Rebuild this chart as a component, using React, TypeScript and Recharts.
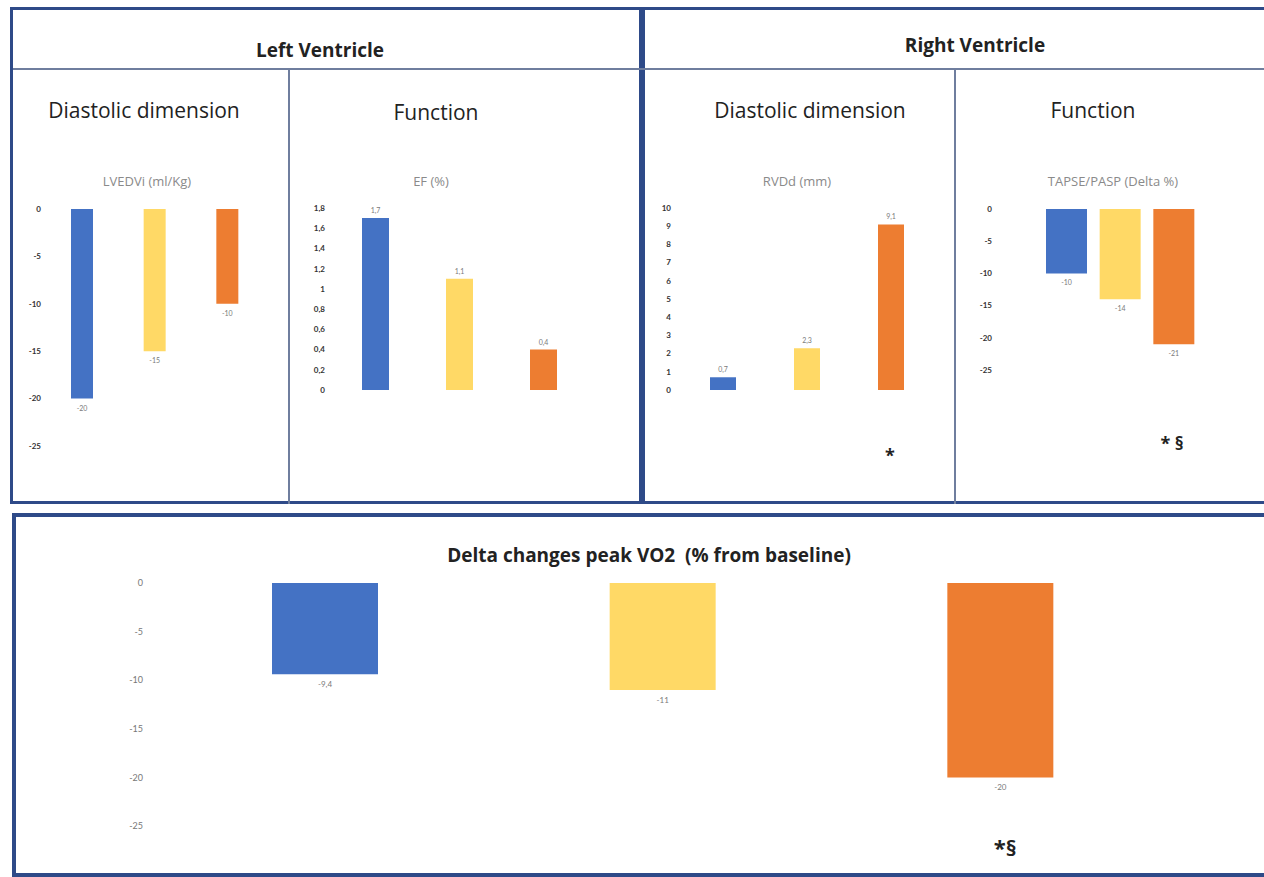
import { Bar, BarChart, Cell, LabelList, XAxis, YAxis } from "recharts";

const categories = ["Group 1", "Group 2", "Group 3"];
const barColors = ["#4472C4", "#FFD966", "#ED7D31"];

const lvedviValues = [-20, -15, -10];
const efValues = [1.7, 1.1, 0.4];
const rvddValues = [0.7, 2.3, 9.1];
const tapsePaspValues = [-10, -14, -21];
const peakVo2Values = [-9.4, -11, -20];

const deltaTicks = [0, -5, -10, -15, -20, -25];
const efTicks = [0, 0.2, 0.4, 0.6, 0.8, 1, 1.2, 1.4, 1.6, 1.8];
const rvddTicks = [0, 1, 2, 3, 4, 5, 6, 7, 8, 9, 10];

const FONT = "Lato, 'Open Sans', sans-serif";
const HEAD_FONT = "'Open Sans', Lato, sans-serif";
const NAVY = "#2E4A88";
const THIN = "#6F7E9E";

const fmt = (v: number | string) => String(v).replace(".", ",");

function toRows(values: number[]) {
  return categories.map((name, i) => ({ name, value: values[i] }));
}

interface PanelProps {
  values: number[];
  domain: [number, number];
  ticks: number[];
  left: number;
  top: number;
  width: number;
  height: number;
  marginTop: number;
  marginBottom: number;
  yWidth: number;
  tickGap: number;
  barSize: number;
  tickFont: number;
  tickColor: string;
  labelFont: number;
}

// value label: under the bar when negative, above it when positive
function makeLabel(fontSize: number) {
  return (props: any) => {
    const { x, y, width, height, value } = props;
    const top = Math.min(y, y + height);
    const bottom = Math.max(y, y + height);
    const cx = x + width / 2;
    const ty = value < 0 ? bottom + fontSize + 5 : top - 5;
    return (
      <text x={cx} y={ty} textAnchor="middle" fontSize={fontSize} fill="#7a7a7a" fontFamily={FONT}>
        {fmt(value)}
      </text>
    );
  };
}

function Panel(p: PanelProps) {
  return (
    <div style={{ position: "absolute", left: p.left, top: p.top }}>
      <BarChart
        width={p.width}
        height={p.height}
        data={toRows(p.values)}
        margin={{ top: p.marginTop, bottom: p.marginBottom, left: 0, right: 0 }}
        barCategoryGap={0}
      >
        <XAxis dataKey="name" hide />
        <YAxis
          width={p.yWidth}
          domain={p.domain}
          ticks={p.ticks}
          interval={0}
          axisLine={false}
          tickLine={false}
          tickSize={0}
          tickMargin={p.tickGap}
          tickFormatter={fmt}
          tick={{ fontSize: p.tickFont, fill: p.tickColor, fontFamily: FONT, fontWeight: p.tickColor === "#333" ? 700 : 400 }}
        />
        <Bar dataKey="value" barSize={p.barSize} isAnimationActive={false}>
          {p.values.map((_, i) => (
            <Cell key={i} fill={barColors[i]} />
          ))}
          <LabelList dataKey="value" content={makeLabel(p.labelFont)} />
        </Bar>
      </BarChart>
    </div>
  );
}

function Txt({ x, y, size, children, bold, color = "#222", w = 500 }: any) {
  return (
    <div
      style={{
        position: "absolute",
        left: x - w / 2,
        top: y - size * 0.65,
        width: w,
        textAlign: "center",
        fontSize: size,
        lineHeight: `${size * 1.2}px`,
        fontWeight: bold ? 700 : 400,
        color,
        fontFamily: HEAD_FONT,
        whiteSpace: "pre",
      }}
    >
      {children}
    </div>
  );
}

function Line({ x, y, w, h, c }: any) {
  return <div style={{ position: "absolute", left: x, top: y, width: w, height: h, background: c }} />;
}

export default function App() {
  return (
    <div style={{ position: "absolute", left: 0, top: 0, width: 1264, height: 877, background: "#fff", overflow: "hidden" }}>
      {/* frames */}
      <div style={{ position: "absolute", left: 10, top: 7, width: 632, height: 497, border: `3px solid ${NAVY}`, boxSizing: "border-box" }} />
      <div style={{ position: "absolute", left: 642, top: 7, width: 640, height: 497, border: `3px solid ${NAVY}`, boxSizing: "border-box" }} />
      <div style={{ position: "absolute", left: 12, top: 513, width: 1270, height: 364, border: `4px solid ${NAVY}`, boxSizing: "border-box" }} />
      <Line x={13} y={68} w={1251} h={2} c={THIN} />
      <Line x={288} y={69} w={1.5} h={435} c={THIN} />
      <Line x={954} y={69} w={1.5} h={435} c={THIN} />

      {/* headings */}
      <Txt x={320} y={51} size={19} bold>Left Ventricle</Txt>
      <Txt x={975} y={46} size={19} bold>Right Ventricle</Txt>
      <Txt x={144} y={112} size={21}>Diastolic dimension</Txt>
      <Txt x={436} y={114} size={21}>Function</Txt>
      <Txt x={810} y={112} size={21}>Diastolic dimension</Txt>
      <Txt x={1093} y={112} size={21}>Function</Txt>
      <Txt x={147} y={182} size={13} color="#8a8a8a">LVEDVi (ml/Kg)</Txt>
      <Txt x={431} y={182} size={13} color="#8a8a8a">EF (%)</Txt>
      <Txt x={797} y={182} size={13} color="#8a8a8a">RVDd (mm)</Txt>
      <Txt x={1113} y={182} size={13} color="#8a8a8a">TAPSE/PASP (Delta %)</Txt>
      <Txt x={649} y={556} size={19} bold w={800}>Delta changes peak VO2  (% from baseline)</Txt>

      <Panel values={lvedviValues} domain={[-25, 0]} ticks={deltaTicks} left={10} top={190} width={254} height={276}
        marginTop={19} marginBottom={20} yWidth={36} tickGap={5} barSize={22} tickFont={8} tickColor="#333" labelFont={7} />
      <Panel values={efValues} domain={[0, 1.8]} ticks={efTicks} left={290} top={190} width={295} height={220}
        marginTop={18} marginBottom={20} yWidth={43} tickGap={8} barSize={27} tickFont={8} tickColor="#333" labelFont={7} />
      <Panel values={rvddValues} domain={[0, 10]} ticks={rvddTicks} left={650} top={190} width={283} height={220}
        marginTop={18} marginBottom={20} yWidth={31} tickGap={10} barSize={26} tickFont={8} tickColor="#333" labelFont={7} />
      <Panel values={tapsePaspValues} domain={[-25, 0]} ticks={deltaTicks} left={958} top={190} width={243} height={200}
        marginTop={19} marginBottom={20} yWidth={82} tickGap={48} barSize={41} tickFont={8} tickColor="#333" labelFont={7} />
      <Panel values={peakVo2Values} domain={[-25, 0]} ticks={deltaTicks} left={20} top={565} width={1149} height={281}
        marginTop={18} marginBottom={20} yWidth={136} tickGap={13} barSize={106} tickFont={9} tickColor="#777" labelFont={8} />

      {/* significance marks */}
      <Txt x={890} y={457} size={18} bold>*</Txt>
      <Txt x={1172} y={445} size={18} bold>* §</Txt>
      <Txt x={1005} y={848} size={22} bold>*§</Txt>
    </div>
  );
}
